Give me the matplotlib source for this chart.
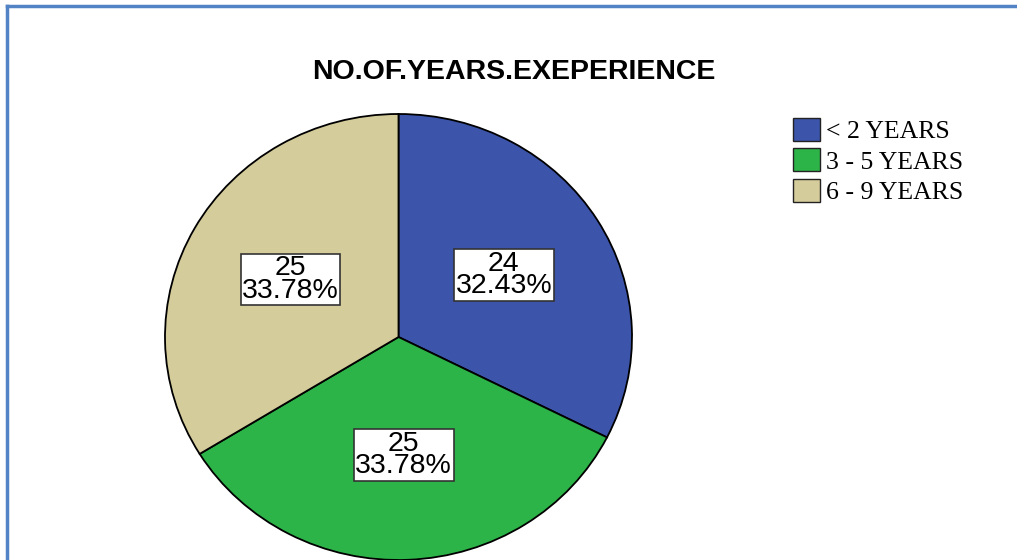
import matplotlib
matplotlib.use('Agg')
import matplotlib.pyplot as plt
from matplotlib.lines import Line2D

categories = ['< 2 YEARS', '3 - 5 YEARS', '6 - 9 YEARS']
counts = [24, 25, 25]
colors = ['#3c54aa', '#2db449', '#d5cc9b']
title = 'NO.OF.YEARS.EXEPERIENCE'

total = sum(counts)

W, H = 1017, 560
fig = plt.figure(figsize=(W / 100, H / 100), dpi=100)

# pie axes placed in pixels (pie is slightly wider than tall in the reference)
cx, cy, rx, ry = 398.5, 337, 233.5, 223
ax = fig.add_axes([(cx - rx) / W, (H - cy - ry) / H, 2 * rx / W, 2 * ry / H])


def fmt(pct):
    n = int(round(pct * total / 100.0))
    return '%d\n%.2f%%' % (n, pct)


wedges, texts, autotexts = ax.pie(
    counts, colors=colors, startangle=90, counterclock=False,
    wedgeprops=dict(edgecolor='black', linewidth=1.3),
    autopct=fmt, pctdistance=0.53, radius=1)
for t in autotexts:
    t.set_fontfamily('Liberation Sans')
    t.set_fontsize(20.5)
    t.set_linespacing(0.82)
    t.set_color('black')
    t.set_bbox(dict(boxstyle='square,pad=0.05', facecolor='white',
                    edgecolor='#333333', linewidth=1.2))
ax.set_aspect('auto')
ax.set_xlim(-1, 1)
ax.set_ylim(-1, 1)
ax.axis('off')
for w in wedges:
    w.set_clip_on(False)

fig.text(514 / W, 1 - 72 / H, title, ha='center', va='center',
         fontfamily='Liberation Sans', fontsize=20.5, fontweight='bold')

leg = fig.legend(wedges, categories, loc='upper left',
                 bbox_to_anchor=(793 / W, 1 - 118 / H), frameon=False,
                 prop={'family': 'Liberation Serif', 'size': 18.5},
                 handlelength=1.05, handleheight=1.0, handletextpad=0.25,
                 labelspacing=0.2, borderpad=0, borderaxespad=0)
for h in leg.legend_handles:
    h.set_edgecolor('#222222')
    h.set_linewidth(1.0)

# blue frame along the top and left edges
fig.add_artist(Line2D([7 / W, 7 / W], [0, 1 - 6 / H], color='#5283c4', linewidth=2.5))
fig.add_artist(Line2D([7 / W, 1], [1 - 6 / H, 1 - 6 / H], color='#5283c4', linewidth=2.5))

fig.savefig('out.png', dpi=100)
